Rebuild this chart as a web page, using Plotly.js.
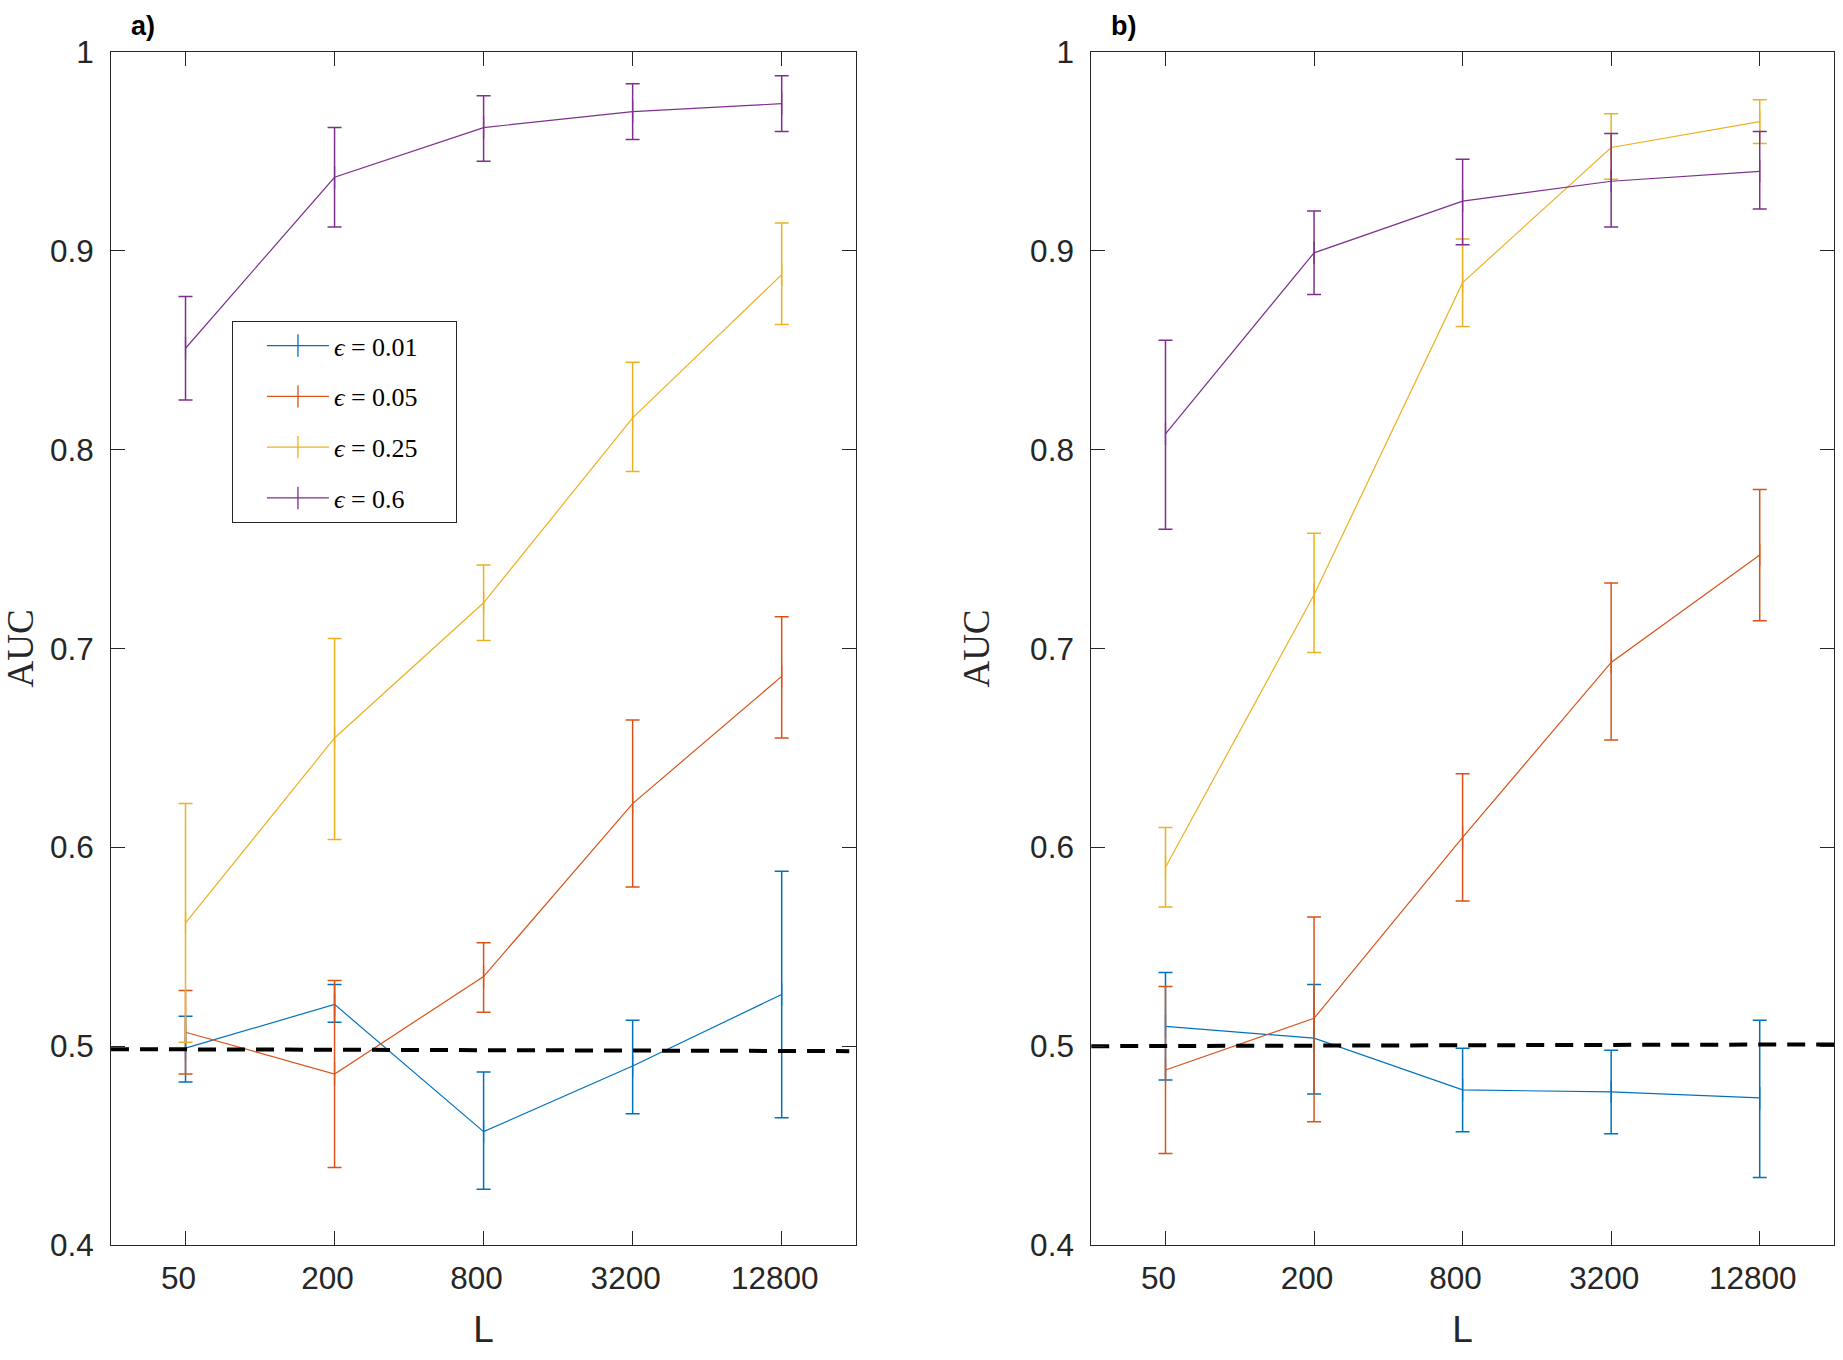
<!DOCTYPE html>
<html><head><meta charset="utf-8">
<script src="https://cdn.plot.ly/plotly-3.0.1.min.js"></script>
<style>body{margin:0;background:#fff}#chart{width:1843px;height:1360px}</style>
</head><body><div id="chart"></div>
<script>
// x categories (sequence length L)
const L = [50, 200, 800, 3200, 12800];
const tickLabels = ['50', '200', '800', '3200', '12800'];
const yTicks = [0.4, 0.5, 0.6, 0.7, 0.8, 0.9, 1];
const yTickLabels = ['0.4', '0.5', '0.6', '0.7', '0.8', '0.9', '1'];
const seriesNames = ['<i>ϵ</i> = 0.01', '<i>ϵ</i> = 0.05', '<i>ϵ</i> = 0.25', '<i>ϵ</i> = 0.6'];
const colors = ['#0072BD', '#D95319', '#EDB120', '#7E2F8E'];

// Panel a) : mean AUC, upper and lower error-bar ends
const a_e001 = [0.499, 0.521, 0.457, 0.490, 0.526];
const a_e001_hi = [0.515, 0.531, 0.487, 0.513, 0.588];
const a_e001_lo = [0.482, 0.512, 0.428, 0.466, 0.464];
const a_e005 = [0.507, 0.486, 0.535, 0.622, 0.686];
const a_e005_hi = [0.528, 0.533, 0.552, 0.664, 0.716];
const a_e005_lo = [0.486, 0.439, 0.517, 0.580, 0.655];
const a_e025 = [0.562, 0.655, 0.723, 0.816, 0.888];
const a_e025_hi = [0.622, 0.705, 0.742, 0.844, 0.914];
const a_e025_lo = [0.502, 0.604, 0.704, 0.789, 0.863];
const a_e06 = [0.851, 0.937, 0.962, 0.970, 0.974];
const a_e06_hi = [0.877, 0.962, 0.978, 0.984, 0.988];
const a_e06_lo = [0.825, 0.912, 0.945, 0.956, 0.960];

// Panel b)
const b_e001 = [0.510, 0.504, 0.478, 0.477, 0.474];
const b_e001_hi = [0.537, 0.531, 0.499, 0.498, 0.513];
const b_e001_lo = [0.483, 0.476, 0.457, 0.456, 0.434];
const b_e005 = [0.488, 0.514, 0.605, 0.693, 0.747];
const b_e005_hi = [0.530, 0.565, 0.637, 0.733, 0.780];
const b_e005_lo = [0.446, 0.462, 0.573, 0.654, 0.714];
const b_e025 = [0.590, 0.727, 0.884, 0.952, 0.965];
const b_e025_hi = [0.610, 0.758, 0.906, 0.969, 0.976];
const b_e025_lo = [0.570, 0.698, 0.862, 0.936, 0.954];
const b_e06 = [0.808, 0.899, 0.925, 0.935, 0.940];
const b_e06_hi = [0.855, 0.920, 0.946, 0.959, 0.960];
const b_e06_lo = [0.760, 0.878, 0.903, 0.912, 0.921];

// chance-level reference lines
const a_baseX = [25, 24000];
const a_baseY = [0.4985, 0.4975];
const b_baseX = [25, 25600];
const b_baseY = [0.5000, 0.5009];

const panels = [
  {xa: 'x', ya: 'y', mean: [a_e001, a_e005, a_e025, a_e06], hi: [a_e001_hi, a_e005_hi, a_e025_hi, a_e06_hi], lo: [a_e001_lo, a_e005_lo, a_e025_lo, a_e06_lo], bx: a_baseX, by: a_baseY},
  {xa: 'x2', ya: 'y2', mean: [b_e001, b_e005, b_e025, b_e06], hi: [b_e001_hi, b_e005_hi, b_e025_hi, b_e06_hi], lo: [b_e001_lo, b_e005_lo, b_e025_lo, b_e06_lo], bx: b_baseX, by: b_baseY}
];

// trailing no-break spaces only pad the legend box to the reference width
const pad = '\u00a0\u00a0\u00a0\u00a0\u00a0';

const traces = [];
panels.forEach((p, pi) => {
  p.mean.forEach((m, si) => {
    traces.push({
      x: L, y: m, xaxis: p.xa, yaxis: p.ya, type: 'scatter', mode: 'lines+markers',
      name: seriesNames[si] + pad, legendgroup: 'g' + si, showlegend: pi === 0,
      line: {color: colors[si], width: 1.2},
      marker: {symbol: 'line-ns', size: 16, color: colors[si], line: {color: colors[si], width: 1.3}},
      error_y: {type: 'data', symmetric: false,
        array: p.hi[si].map((v, i) => v - m[i]),
        arrayminus: m.map((v, i) => v - p.lo[si][i]),
        color: colors[si], thickness: 1.5, width: 7}
    });
  });
  traces.push({
    x: p.bx, y: p.by, xaxis: p.xa, yaxis: p.ya, type: 'scatter', mode: 'lines',
    showlegend: false, hoverinfo: 'skip',
    line: {color: '#000', width: 4, dash: '18px,11px'}
  });
});

const tickFont = {family: 'Liberation Sans, Arial, Helvetica, sans-serif', size: 31.5, color: '#262626'};
const axisCommon = {
  showline: true, mirror: 'ticks', linecolor: '#262626', linewidth: 1,
  ticks: 'inside', ticklen: 14, tickwidth: 1, tickcolor: '#262626',
  zeroline: false, showgrid: false, tickfont: tickFont
};
const xCommon = Object.assign({}, axisCommon, {
  type: 'log', range: [Math.log10(25), Math.log10(25600)],
  tickmode: 'array', tickvals: L, ticktext: tickLabels, ticklabelshift: -7, ticklabelstandoff: 5,
  title: {text: 'L', font: {family: 'Liberation Sans, Arial, sans-serif', size: 37, color: '#262626'}, standoff: 21}
});
const yCommon = Object.assign({}, axisCommon, {
  range: [0.4, 1], tickmode: 'array', tickvals: yTicks, ticktext: yTickLabels, ticklabelstandoff: 10
});

const layout = {
  width: 1843, height: 1360,
  margin: {l: 110.5, r: 9.4, t: 51.7, b: 115.2},
  paper_bgcolor: '#fff', plot_bgcolor: '#fff',
  showlegend: true,
  xaxis: Object.assign({}, xCommon, {domain: [0, 0.4325], anchor: 'y'}),
  yaxis: Object.assign({}, yCommon, {anchor: 'x',
    title: {text: 'AUC', font: {family: 'Liberation Serif, DejaVu Serif, serif', size: 37, color: '#262626'}, standoff: 9}}),
  xaxis2: Object.assign({}, xCommon, {domain: [0.5689, 1], anchor: 'y2'}),
  yaxis2: Object.assign({}, yCommon, {anchor: 'x2',
    title: {text: 'AUC', font: {family: 'Liberation Serif, DejaVu Serif, serif', size: 37, color: '#262626'}, standoff: 29}}),
  legend: {
    x: 0.0702, y: 0.7744, xanchor: 'left', yanchor: 'top',
    bgcolor: '#fff', bordercolor: '#262626', borderwidth: 1,
    font: {family: 'Liberation Serif, DejaVu Serif, serif', size: 26, color: '#000'},
    tracegroupgap: 14, indentation: 29, itemwidth: 62
  },
  annotations: [
    {text: '<b>a)</b>', xref: 'paper', yref: 'paper', x: 0.0107, y: 1.0215, xanchor: 'left', yanchor: 'middle', showarrow: false,
     font: {family: 'Liberation Sans, Arial, sans-serif', size: 27, color: '#000'}},
    {text: '<b>b)</b>', xref: 'paper', yref: 'paper', x: 0.579, y: 1.0215, xanchor: 'left', yanchor: 'middle', showarrow: false,
     font: {family: 'Liberation Sans, Arial, sans-serif', size: 27, color: '#000'}}
  ]
};

Plotly.newPlot('chart', traces, layout, {displayModeBar: false, staticPlot: true});
</script>
</body></html>
